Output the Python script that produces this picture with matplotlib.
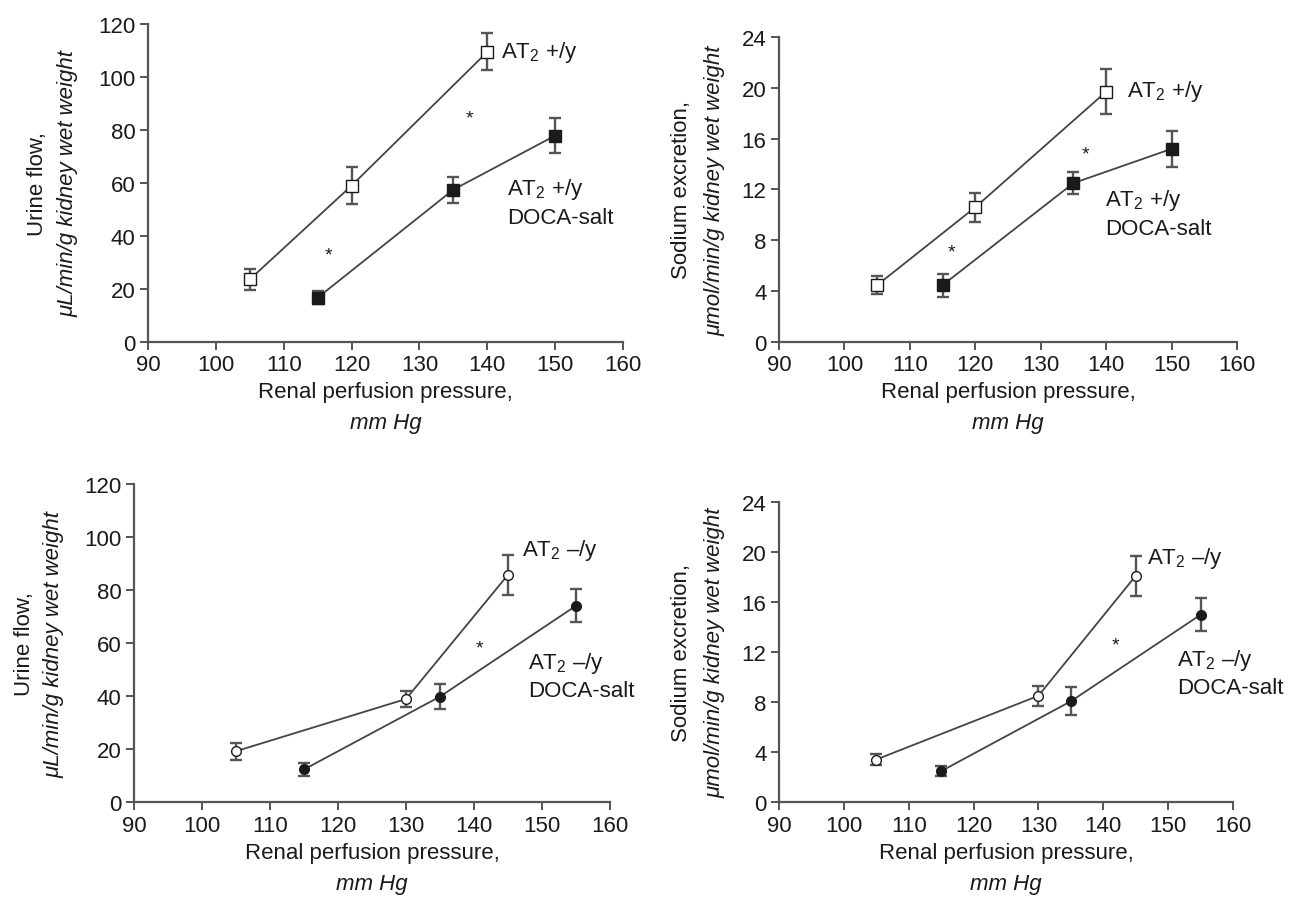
"""Four-panel pressure-natriuresis figure: urine flow and sodium excretion
vs renal perfusion pressure for AT2 +/y and AT2 -/y mice (± DOCA-salt)."""

import matplotlib
matplotlib.use('Agg')
import matplotlib.pyplot as plt
from matplotlib import font_manager

# ---- data ----
# top-left: urine flow, AT2 +/y
uf_wt_x = [105, 120, 140]
uf_wt_y = [23.6, 59.0, 109.5]
uf_wt_err = [3.8, 7.1, 7.0]
uf_wt_doca_x = [115, 135, 150]
uf_wt_doca_y = [16.7, 57.5, 77.9]
uf_wt_doca_err = [2.4, 4.9, 6.5]

# top-right: sodium excretion, AT2 +/y
na_wt_x = [105, 120, 140]
na_wt_y = [4.47, 10.6, 19.7]
na_wt_err = [0.7, 1.15, 1.75]
na_wt_doca_x = [115, 135, 150]
na_wt_doca_y = [4.47, 12.5, 15.2]
na_wt_doca_err = [0.9, 0.85, 1.4]

# bottom-left: urine flow, AT2 -/y
uf_ko_x = [105, 130, 145]
uf_ko_y = [19.2, 38.9, 85.8]
uf_ko_err = [3.2, 3.0, 7.6]
uf_ko_doca_x = [115, 135, 155]
uf_ko_doca_y = [12.3, 39.8, 74.1]
uf_ko_doca_err = [2.4, 4.8, 6.2]

# bottom-right: sodium excretion, AT2 -/y
na_ko_x = [105, 130, 145]
na_ko_y = [3.4, 8.5, 18.1]
na_ko_err = [0.45, 0.8, 1.6]
na_ko_doca_x = [115, 135, 155]
na_ko_doca_y = [2.47, 8.06, 14.98]
na_ko_doca_err = [0.42, 1.13, 1.33]

x_ticks = [90, 100, 110, 120, 130, 140, 150, 160]
uf_ticks = [0, 20, 40, 60, 80, 100, 120]
na_ticks = [0, 4, 8, 12, 16, 20, 24]

INK = '#1a1a1a'
AXIS = '#555555'
LINE = '#444444'

installed = {f.name for f in font_manager.fontManager.ttflist}
FAM = 'Liberation Sans Narrow' if 'Liberation Sans Narrow' in installed else 'Liberation Sans'

plt.rcParams['font.family'] = [FAM, 'DejaVu Sans']
plt.rcParams['mathtext.fontset'] = 'custom'
plt.rcParams['mathtext.rm'] = FAM
plt.rcParams['mathtext.it'] = FAM + ':italic'
plt.rcParams['mathtext.default'] = 'regular'

FS = 16


def style_axes(ax, yticks, ylab1, ylab2, yoff1, yoff2):
    ax.set_xlim(90, 160)
    ax.set_ylim(yticks[0], yticks[-1])
    ax.set_xticks(x_ticks)
    ax.set_yticks(yticks)
    for s in ('top', 'right'):
        ax.spines[s].set_visible(False)
    for s in ('left', 'bottom'):
        ax.spines[s].set_color(AXIS)
        ax.spines[s].set_linewidth(1.6)
    ax.tick_params(direction='out', length=6, width=1.4, color=AXIS,
                   labelsize=FS, labelcolor=INK, pad=3)
    ax.patch.set_alpha(0)
    # x label, two lines
    ax.annotate('Renal perfusion pressure,', xy=(0.5, 0), xycoords='axes fraction',
                xytext=(0, -50), textcoords='offset pixels',
                ha='center', va='center', fontsize=FS, color=INK)
    ax.annotate('mm Hg', xy=(0.5, 0), xycoords='axes fraction',
                xytext=(0, -81), textcoords='offset pixels',
                ha='center', va='center', fontsize=FS, color=INK, style='italic')
    # y label, two lines
    ax.annotate(ylab1, xy=(0, 0.5), xycoords='axes fraction',
                xytext=(yoff1, 0), textcoords='offset pixels',
                ha='center', va='center', rotation=90, fontsize=FS, color=INK)
    ax.annotate(ylab2, xy=(0, 0.5), xycoords='axes fraction',
                xytext=(yoff2, 0), textcoords='offset pixels',
                ha='center', va='center', rotation=90, fontsize=FS, color=INK,
                style='italic')


def series(ax, x, y, err, marker, filled, ms):
    ax.plot(x, y, color=LINE, lw=1.3, zorder=2)
    ax.errorbar(x, y, yerr=err, fmt='none', ecolor=AXIS, elinewidth=1.7,
                capsize=4.5, capthick=1.7, zorder=3)
    ax.plot(x, y, linestyle='none', marker=marker, ms=ms,
            mfc=INK if filled else 'white', mec=INK, mew=1.0, zorder=4)


def label(ax, x, y, lines):
    for (ty, txt) in zip(y, lines):
        ax.text(x, ty, txt, ha='left', va='center', fontsize=FS, color=INK,
                clip_on=False)


def star(ax, x, y):
    ax.text(x, y, '*', ha='center', va='center', fontsize=14, color=INK)


fig = plt.figure(figsize=(12.91, 9.03), dpi=100, facecolor='white')

uf_lab2 = 'μL/min/g kidney wet weight'
na_lab2 = 'μmol/min/g kidney wet weight'

# top-left
ax1 = fig.add_axes([0.1146, 0.6202, 0.368, 0.352])
series(ax1, uf_wt_x, uf_wt_y, uf_wt_err, 's', False, 8)
series(ax1, uf_wt_doca_x, uf_wt_doca_y, uf_wt_doca_err, 's', True, 8)
style_axes(ax1, uf_ticks, 'Urine flow,', uf_lab2, -110, -80)
label(ax1, 142.0, [109.5], ['AT$_2$ +/y'])
label(ax1, 142.9, [58.0, 47.0], ['AT$_2$ +/y', 'DOCA-salt'])
star(ax1, 116.6, 33)
star(ax1, 137.3, 84.5)

# top-right
ax2 = fig.add_axes([0.6034, 0.6202, 0.3548, 0.3377])
series(ax2, na_wt_x, na_wt_y, na_wt_err, 's', False, 8)
series(ax2, na_wt_doca_x, na_wt_doca_y, na_wt_doca_err, 's', True, 8)
style_axes(ax2, na_ticks, 'Sodium excretion,', na_lab2, -97, -64)
label(ax2, 143.2, [19.8], ['AT$_2$ +/y'])
label(ax2, 139.8, [11.2, 8.9], ['AT$_2$ +/y', 'DOCA-salt'])
star(ax2, 116.4, 7.1)
star(ax2, 136.8, 14.8)

# bottom-left
ax3 = fig.add_axes([0.1038, 0.1107, 0.3687, 0.352])
series(ax3, uf_ko_x, uf_ko_y, uf_ko_err, 'o', False, 7)
series(ax3, uf_ko_doca_x, uf_ko_doca_y, uf_ko_doca_err, 'o', True, 7)
style_axes(ax3, uf_ticks, 'Urine flow,', uf_lab2, -110, -80)
label(ax3, 147.0, [95.5], ['AT$_2$ –/y'])
label(ax3, 147.9, [52.8, 42.1], ['AT$_2$ –/y', 'DOCA-salt'])
star(ax3, 140.8, 58.0)

# bottom-right
ax4 = fig.add_axes([0.6034, 0.1107, 0.3517, 0.3323])
series(ax4, na_ko_x, na_ko_y, na_ko_err, 'o', False, 7)
series(ax4, na_ko_doca_x, na_ko_doca_y, na_ko_doca_err, 'o', True, 7)
style_axes(ax4, na_ticks, 'Sodium excretion,', na_lab2, -97, -64)
label(ax4, 146.7, [19.56], ['AT$_2$ –/y'])
label(ax4, 151.4, [11.44, 9.18], ['AT$_2$ –/y', 'DOCA-salt'])
star(ax4, 141.8, 12.6)

fig.savefig('out.png', dpi=100, facecolor='white')
plt.close(fig)
